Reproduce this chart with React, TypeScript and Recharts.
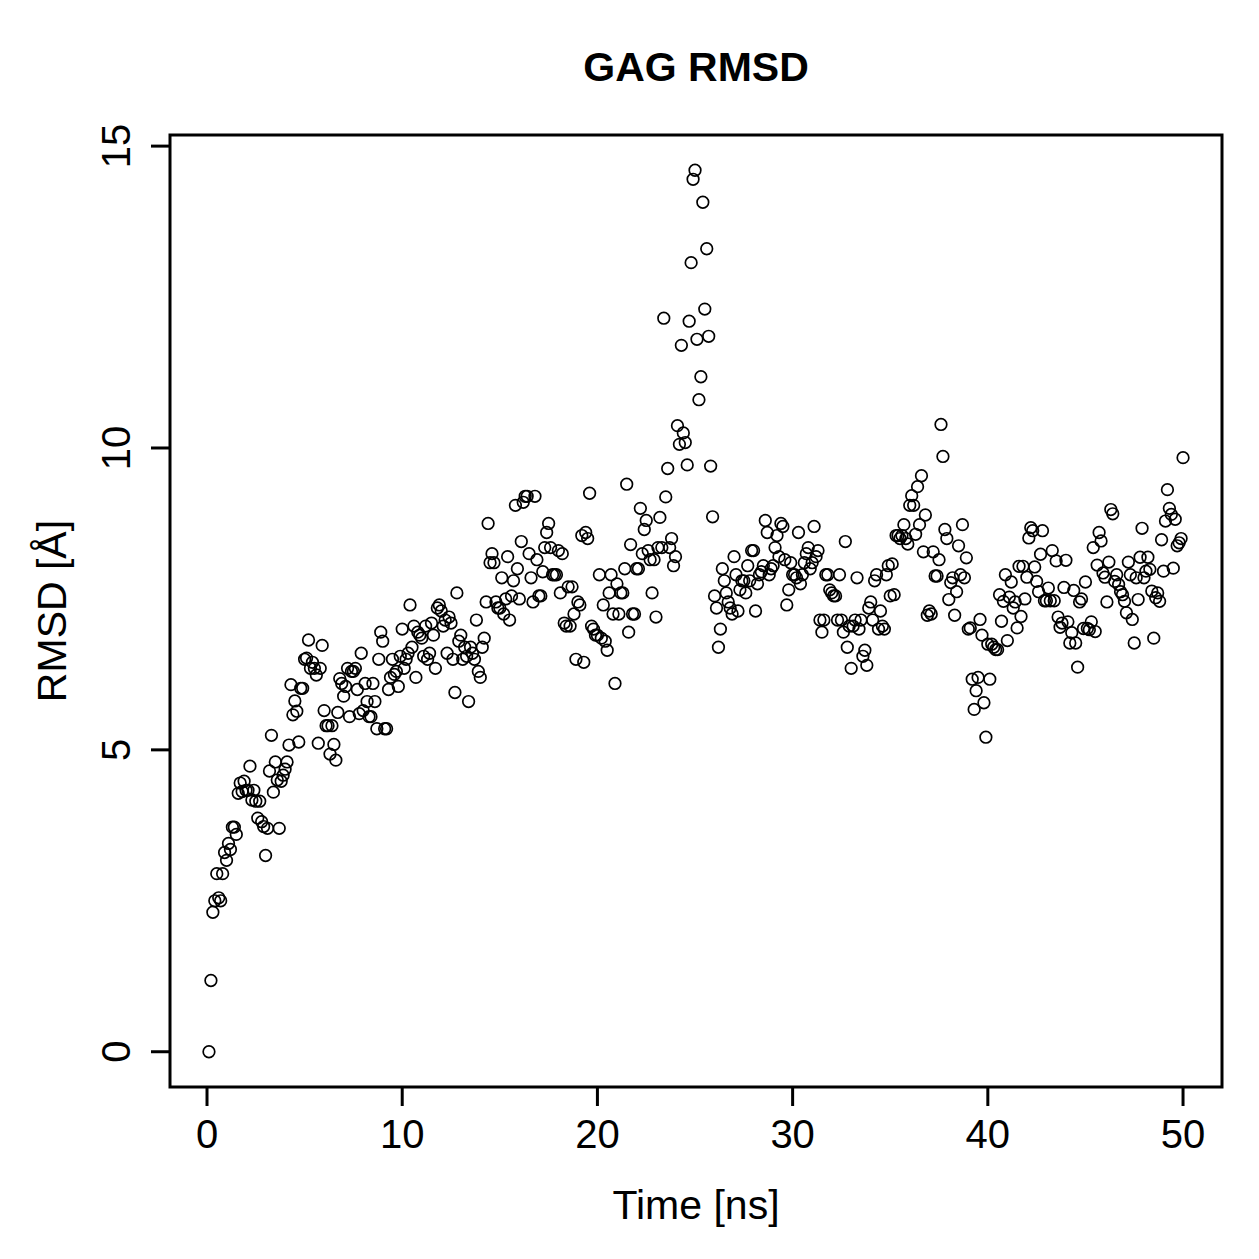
import { ScatterChart, Scatter, XAxis, YAxis, ReferenceArea } from "recharts"

// RMSD of the GAG chain, one frame every 0.1 ns (rows = 1 ns)
const SAMPLE_NS = 0.1
const rmsd = [
  0, 1.18, 2.31, 2.5, 2.95, 2.55, 2.5, 2.95, 3.3, 3.17,
  3.45, 3.35, 3.72, 3.72, 3.6, 4.28, 4.45, 4.31, 4.48, 4.33,
  4.33, 4.73, 4.17, 4.33, 4.15, 3.87, 4.15, 3.81, 3.73, 3.25,
  3.7, 4.65, 5.24, 4.3, 4.8, 4.5, 3.7, 4.48, 4.58, 4.68,
  4.8, 5.08, 6.08, 5.58, 5.81, 5.64, 5.13, 6.02, 6.02, 6.5,
  6.52, 6.82, 6.35, 6.45, 6.35, 6.24, 5.11, 6.35, 6.73, 5.65,
  5.4, 5.4, 4.93, 5.4, 5.09, 4.83, 5.62, 6.18, 6.1, 5.89,
  6.05, 6.35, 5.55, 6.3, 6.3, 6.35, 6.0, 5.6, 6.6, 5.65,
  6.1, 5.8, 5.55, 5.55, 6.1, 5.8, 5.35, 6.5, 6.95, 6.8,
  5.35, 5.35, 6.0, 6.2, 6.5, 6.25, 6.3, 6.05, 6.55, 7.0,
  6.35, 6.5, 6.6, 7.4, 6.7, 7.05, 6.2, 6.95, 6.9, 6.85,
  6.55, 7.05, 6.5, 6.6, 7.1, 6.9, 6.35, 7.35, 7.4, 7.3,
  7.05, 7.15, 6.6, 7.2, 7.1, 6.5, 5.95, 7.6, 6.8, 6.9,
  6.5, 6.7, 6.55, 5.8, 6.7, 6.6, 6.5, 7.15, 6.3, 6.2,
  6.7, 6.85, 7.45, 8.75, 8.1, 8.25, 8.1, 7.45, 7.35, 7.35,
  7.85, 7.25, 7.5, 8.2, 7.15, 7.55, 7.8, 9.05, 8.0, 7.5,
  8.45, 9.1, 9.2, 9.2, 8.25, 7.85, 7.45, 9.2, 8.15, 7.55,
  7.55, 7.95, 8.35, 8.6, 8.75, 8.35, 7.9, 7.9, 7.9, 8.3,
  7.6, 8.25, 7.1, 7.05, 7.7, 7.05, 7.7, 7.25, 6.5, 7.45,
  7.4, 8.55, 6.45, 8.6, 8.5, 9.25, 7.05, 7.0, 6.9, 6.9,
  7.9, 6.85, 7.4, 6.8, 6.65, 7.6, 7.9, 7.25, 6.1, 7.75,
  7.25, 7.6, 7.6, 8.0, 9.4, 6.95, 8.4, 7.25, 7.25, 8.0,
  8.0, 9.0, 8.25, 8.65, 8.8, 8.3, 8.15, 7.6, 8.15, 7.2,
  8.35, 8.85, 8.35, 12.15, 9.19, 9.66, 8.35, 8.5, 8.05, 8.2,
  10.37, 10.06, 11.7, 10.25, 10.09, 9.72, 12.1, 13.07, 14.45, 14.6,
  11.8, 10.8, 11.18, 14.07, 12.3, 13.3, 11.85, 9.7, 8.86, 7.55,
  7.35, 6.7, 7.0, 8.0, 7.8, 7.6, 7.45, 7.35, 7.25, 8.2,
  7.9, 7.3, 7.65, 7.8, 7.8, 7.6, 8.05, 7.8, 8.3, 8.3,
  7.3, 7.75, 7.9, 7.95, 8.05, 8.8, 8.6, 7.9, 8.0, 8.05,
  8.35, 8.55, 8.2, 8.75, 8.7, 8.15, 7.4, 7.65, 8.1, 7.9,
  7.9, 7.85, 8.6, 7.75, 7.9, 8.1, 8.25, 8.35, 8.0, 8.1,
  8.7, 8.2, 8.3, 7.15, 6.95, 7.15, 7.9, 7.9, 7.65, 7.6,
  7.55, 7.55, 7.15, 7.9, 7.15, 6.95, 8.45, 6.7, 7.05, 6.35,
  7.05, 7.15, 7.85, 7.0, 7.15, 6.55, 6.65, 6.4, 7.35, 7.45,
  7.15, 7.8, 7.9, 7.0, 7.3, 7.05, 7.0, 7.9, 8.05, 7.55,
  8.08, 7.57, 8.55, 8.55, 8.5, 8.55, 8.73, 8.5, 8.41, 9.05,
  9.21, 9.05, 8.57, 9.36, 8.73, 9.54, 8.28, 8.89, 7.23, 7.3,
  7.25, 8.28, 7.88, 7.88, 8.15, 10.39, 9.86, 8.65, 8.5, 7.49,
  7.77, 7.85, 7.23, 7.62, 8.38, 7.9, 8.73, 7.85, 8.18, 7.0,
  7.02, 6.17, 5.67, 5.98, 6.2, 7.16, 6.9, 5.78, 5.21, 6.75,
  6.17, 6.75, 6.7, 6.66, 6.66, 7.57, 7.13, 7.46, 7.9, 6.81,
  7.53, 7.78, 7.35, 7.45, 7.02, 8.04, 7.21, 8.04, 7.5, 7.86,
  8.51, 8.68, 8.63, 8.03, 7.79, 7.62, 8.24, 8.63, 7.47, 7.47,
  7.68, 7.47, 8.3, 7.47, 8.13, 7.2, 7.03, 7.1, 7.69, 8.14,
  7.12, 6.77, 6.94, 7.64, 6.77, 6.37, 7.45, 7.5, 7.01, 7.78,
  7.01, 6.99, 7.12, 8.35, 6.96, 8.06, 8.6, 8.46, 7.93, 7.86,
  7.45, 8.11, 8.98, 8.91, 7.79, 7.9, 7.74, 7.62, 7.57, 7.46,
  7.27, 8.11, 7.9, 7.16, 6.77, 7.85, 7.49, 8.19, 8.67, 7.85,
  7.96, 8.19, 7.99, 7.63, 6.85, 7.52, 7.6, 7.46, 8.48, 7.96,
  8.79, 9.31, 9.0, 8.9, 8.01, 8.82, 8.38, 8.43, 8.5, 9.84,
]

const xTicks = [0, 10, 20, 30, 40, 50]
const yTicks = [0, 5, 10, 15]

const points = rmsd.map((v, i) => ({
  t: Math.round((i + 1) * SAMPLE_NS * 10) / 10,
  rmsd: v,
}))

// base-graphics style range: data extent plus 4% on each side
const padRange = (lo: number, hi: number): [number, number] => [
  lo - (hi - lo) * 0.04,
  hi + (hi - lo) * 0.04,
]
const xDomain = padRange(points[0].t, points[points.length - 1].t)
const yDomain = padRange(Math.min(...rmsd), Math.max(...rmsd))

const FONT = '"Liberation Sans", Arial, Helvetica, sans-serif'
const W = 1259
const H = 1259
const PLOT = { left: 170, right: 1222, top: 135, bottom: 1087 }
const LINE = 3

function XTick(props: any) {
  const { x, y, payload } = props
  return (
    <text x={x} y={y + 42} textAnchor="middle" fontFamily={FONT} fontSize={40} fill="#000">
      {payload.value}
    </text>
  )
}

function YTick(props: any) {
  const { x, y, payload } = props
  const bx = x - 21
  return (
    <text
      x={bx}
      y={y}
      transform={`rotate(-90, ${bx}, ${y})`}
      textAnchor="middle"
      fontFamily={FONT}
      fontSize={40}
      fill="#000"
    >
      {payload.value}
    </text>
  )
}

function OpenCircle(props: any) {
  const { cx, cy } = props
  return <circle cx={cx} cy={cy} r={5.8} fill="none" stroke="#000" strokeWidth={1.7} />
}

export default function App() {
  const midX = (PLOT.left + PLOT.right) / 2
  const midY = (PLOT.top + PLOT.bottom) / 2
  return (
    <div style={{ position: "absolute", left: 0, top: 0, width: W, height: H, background: "#fff" }}>
      <ScatterChart
        width={W}
        height={H}
        margin={{ top: PLOT.top, right: W - PLOT.right, bottom: H - PLOT.bottom - 140, left: PLOT.left - 150 }}
      >
        <XAxis
          type="number"
          dataKey="t"
          domain={xDomain}
          ticks={xTicks}
          allowDataOverflow
          height={140}
          axisLine={false}
          tickSize={19}
          tickMargin={0}
          tickLine={{ stroke: "#000", strokeWidth: LINE }}
          tick={<XTick />}
        />
        <YAxis
          type="number"
          dataKey="rmsd"
          domain={yDomain}
          ticks={yTicks}
          allowDataOverflow
          width={150}
          axisLine={false}
          tickSize={19}
          tickMargin={0}
          tickLine={{ stroke: "#000", strokeWidth: LINE }}
          tick={<YTick />}
        />
        <ReferenceArea
          x1={xDomain[0]}
          x2={xDomain[1]}
          y1={yDomain[0]}
          y2={yDomain[1]}
          fill="none"
          fillOpacity={0}
          stroke="#000"
          strokeWidth={LINE}
          ifOverflow="visible"
        />
        <Scatter data={points} shape={<OpenCircle />} isAnimationActive={false} />
      </ScatterChart>
      <svg
        width={W}
        height={H}
        style={{ position: "absolute", left: 0, top: 0, pointerEvents: "none" }}
      >
        <text x={midX} y={81} textAnchor="middle" fontFamily={FONT} fontSize={41} fontWeight="bold" fill="#000">
          GAG RMSD
        </text>
        <text x={midX} y={1219} textAnchor="middle" fontFamily={FONT} fontSize={41} fill="#000">
          Time [ns]
        </text>
        <text
          x={66}
          y={midY}
          transform={`rotate(-90, 66, ${midY})`}
          textAnchor="middle"
          fontFamily={FONT}
          fontSize={41}
          fill="#000"
        >
          RMSD [Å]
        </text>
      </svg>
    </div>
  )
}
